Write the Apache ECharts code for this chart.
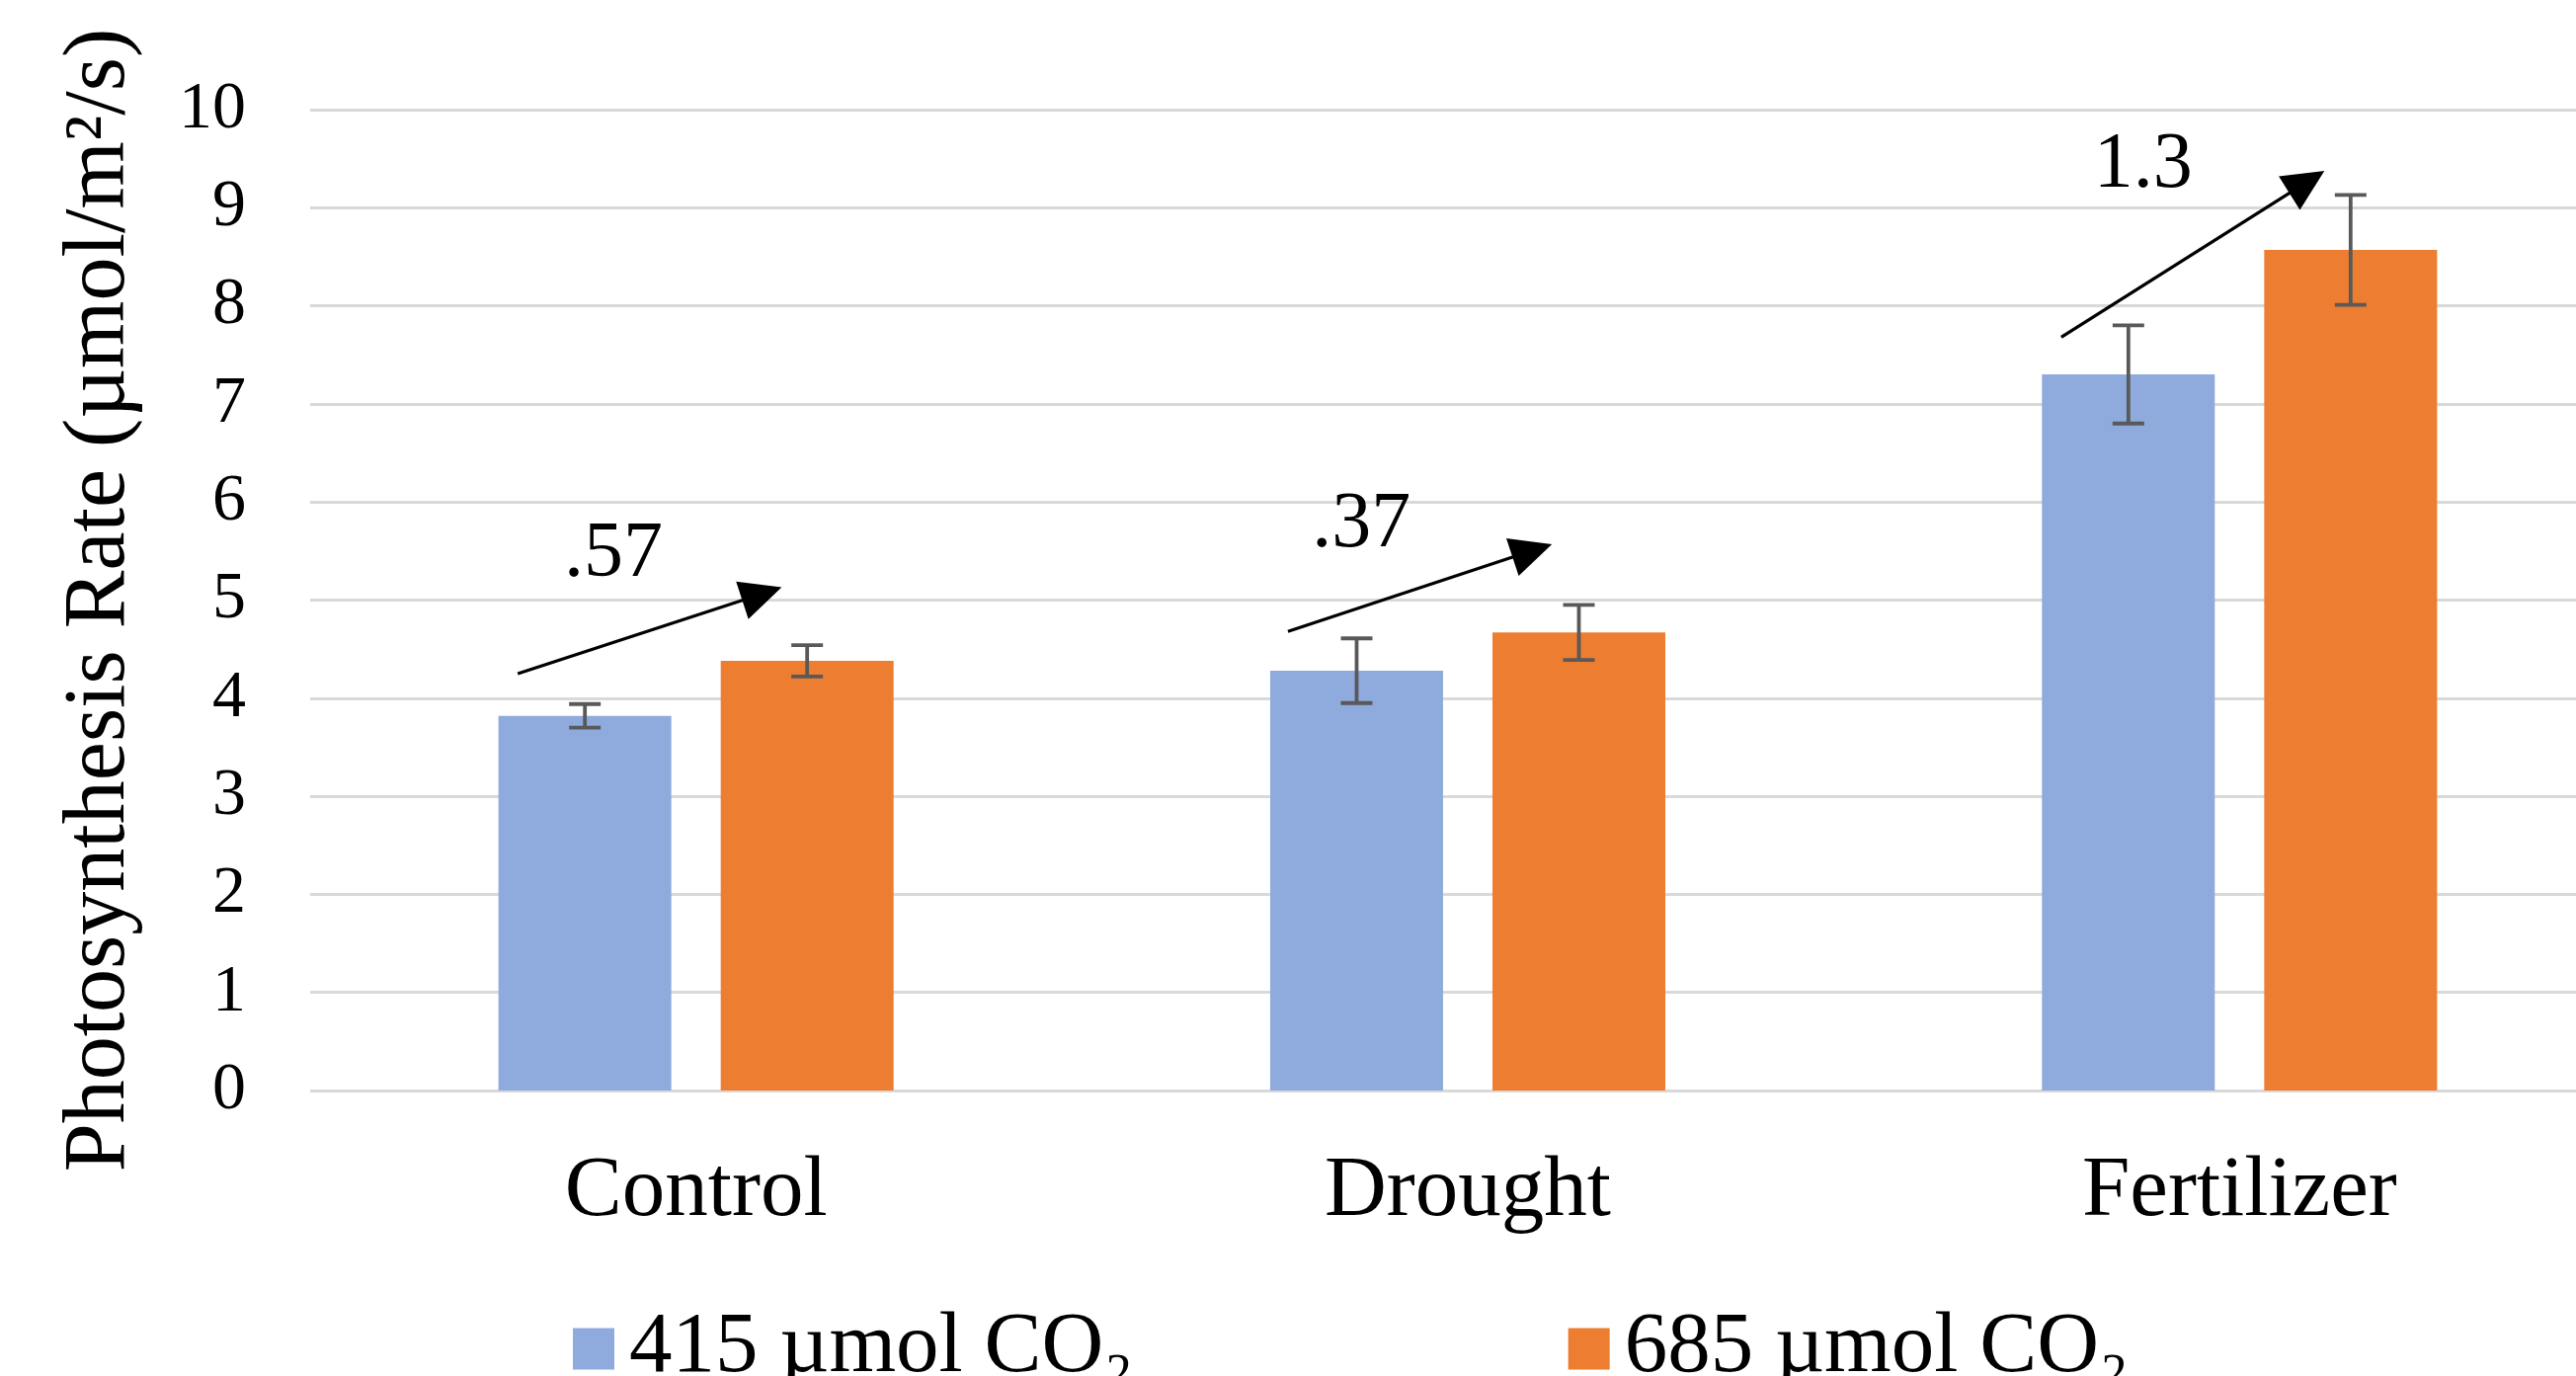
<!DOCTYPE html>
<html>
<head>
<meta charset="utf-8">
<script src="https://cdn.jsdelivr.net/npm/echarts@6/dist/echarts.min.js"></script>
<style>
html,body{margin:0;padding:0;background:#fff;overflow:hidden;width:2608px;height:1393px;}
#chart{width:2658px;height:1393px;}
</style>
</head>
<body>
<div id="chart"></div>
<script>
// ---- data ----
var categories = ['Control', 'Drought', 'Fertilizer'];
var seriesNames = ['415 µmol CO₂', '685 µmol CO₂'];
var co2_415 = [3.82, 4.28, 7.30];
var co2_685 = [4.38, 4.67, 8.57];
var err_415 = [0.12, 0.33, 0.50];
var err_685 = [0.16, 0.28, 0.56];
var yTicks = [0, 1, 2, 3, 4, 5, 6, 7, 8, 9, 10];
// annotation arrows (x in category-index units, y in value units)
var arrowFrom = [[-0.231, 4.25], [0.767, 4.68], [1.769, 7.68]];
var arrowTo = [[0.111, 5.13], [1.109, 5.57], [2.110, 9.375]];
var arrowText = ['.57', '.37', '1.3'];
var arrowTextPos = [[-0.107, 5.46], [0.862, 5.76], [1.875, 9.43]];

// ---- styles ----
var FONT = '"Liberation Serif", "Times New Roman", serif';
var BAR_W = 175, BAR_GAP = 50;
var COLORS = ['#8FAADC', '#ED7D31'];

var chart = echarts.init(document.getElementById('chart'), null, {renderer: 'canvas'});

function errData(vals, errs) {
  return vals.map(function (v, i) { return [i, v - errs[i], v + errs[i]]; });
}
function errSeries(name, vals, errs, side) {
  return {
    type: 'custom',
    name: name + ' err',
    xAxisIndex: 0, yAxisIndex: 0,
    silent: true,
    z: 5,
    data: errData(vals, errs),
    encode: {x: 0, y: [1, 2]},
    renderItem: function (params, api) {
      var off = side * (BAR_W + BAR_GAP) / 2;
      var lo = api.coord([api.value(0), api.value(1)]);
      var hi = api.coord([api.value(0), api.value(2)]);
      var x = lo[0] + off, cap = 16;
      var st = {stroke: '#595959', lineWidth: 3.8};
      return {
        type: 'group',
        children: [
          {type: 'line', shape: {x1: x, y1: lo[1], x2: x, y2: hi[1]}, style: st},
          {type: 'line', shape: {x1: x - cap, y1: lo[1], x2: x + cap, y2: lo[1]}, style: st},
          {type: 'line', shape: {x1: x - cap, y1: hi[1], x2: x + cap, y2: hi[1]}, style: st}
        ]
      };
    }
  };
}

var arrowData = arrowFrom.map(function (f, i) {
  return [f[0], f[1], arrowTo[i][0], arrowTo[i][1], arrowTextPos[i][0], arrowTextPos[i][1], i];
});

var option = {
  backgroundColor: '#ffffff',
  animation: false,
  textStyle: {fontFamily: FONT, color: '#000'},
  grid: {left: 314, right: 0, top: 111, bottom: 289, containLabel: false},
  legend: {
    data: seriesNames,
    left: 575,
    top: 1317,
    itemWidth: 42,
    itemHeight: 42,
    itemGap: 440,
    icon: 'rect',
    selectedMode: false,
    textStyle: {fontFamily: FONT, fontSize: 87, color: '#000', padding: [0, 0, 0, 10]}
  },
  xAxis: [{
    type: 'category',
    data: categories,
    axisLine: {show: false},
    axisTick: {show: false},
    axisLabel: {fontFamily: FONT, fontSize: 87, color: '#000', margin: 60}
  }, {
    type: 'value',
    min: -0.5, max: 2.5,
    show: false
  }],
  yAxis: {
    type: 'value',
    min: 0, max: 10, interval: 1,
    name: 'Photosynthesis Rate (µmol/m²/s)',
    nameLocation: 'middle',
    nameGap: 168,
    nameTextStyle: {fontFamily: FONT, fontSize: 88, color: '#000'},
    axisLine: {show: false},
    axisTick: {show: false},
    axisLabel: {
      fontFamily: FONT, fontSize: 68, color: '#000', margin: 65,
      formatter: function (v) { return yTicks.indexOf(v) >= 0 ? String(v) : ''; }
    },
    splitLine: {show: true, lineStyle: {color: '#d9d9d9', width: 3}}
  },
  series: [
    {
      type: 'bar', name: seriesNames[0], data: co2_415,
      barWidth: BAR_W, barGap: (BAR_GAP / BAR_W * 100).toFixed(1) + '%',
      itemStyle: {color: COLORS[0]}, z: 2
    },
    {
      type: 'bar', name: seriesNames[1], data: co2_685,
      barWidth: BAR_W,
      itemStyle: {color: COLORS[1]}, z: 2
    },
    errSeries(seriesNames[0], co2_415, err_415, -1),
    errSeries(seriesNames[1], co2_685, err_685, 1),
    {
      type: 'custom',
      name: 'arrows',
      xAxisIndex: 1, yAxisIndex: 0,
      silent: true,
      z: 6,
      clip: false,
      data: arrowData,
      encode: {x: [0, 2], y: [1, 3]},
      renderItem: function (params, api) {
        var p1 = api.coord([api.value(0), api.value(1)]);
        var p2 = api.coord([api.value(2), api.value(3)]);
        var pt = api.coord([api.value(4), api.value(5)]);
        var idx = api.value(6);
        var dx = p2[0] - p1[0], dy = p2[1] - p1[1];
        var len = Math.sqrt(dx * dx + dy * dy);
        var ux = dx / len, uy = dy / len;
        var headL = 42, headW = 20;
        var bx = p2[0] - ux * headL, by = p2[1] - uy * headL;
        var nx = -uy, ny = ux;
        return {
          type: 'group',
          children: [
            {type: 'line', shape: {x1: p1[0], y1: p1[1], x2: bx + ux * 4, y2: by + uy * 4},
             style: {stroke: '#000', lineWidth: 3.2}},
            {type: 'polygon', shape: {points: [
              [p2[0], p2[1]],
              [bx + nx * headW, by + ny * headW],
              [bx - nx * headW, by - ny * headW]
            ]}, style: {fill: '#000'}},
            {type: 'text', x: pt[0], y: pt[1], style: {
              text: arrowText[idx], fontFamily: FONT, fontSize: 80, fill: '#000',
              align: 'center', verticalAlign: 'middle'
            }}
          ]
        };
      }
    }
  ]
};
chart.setOption(option);
</script>
</body>
</html>
